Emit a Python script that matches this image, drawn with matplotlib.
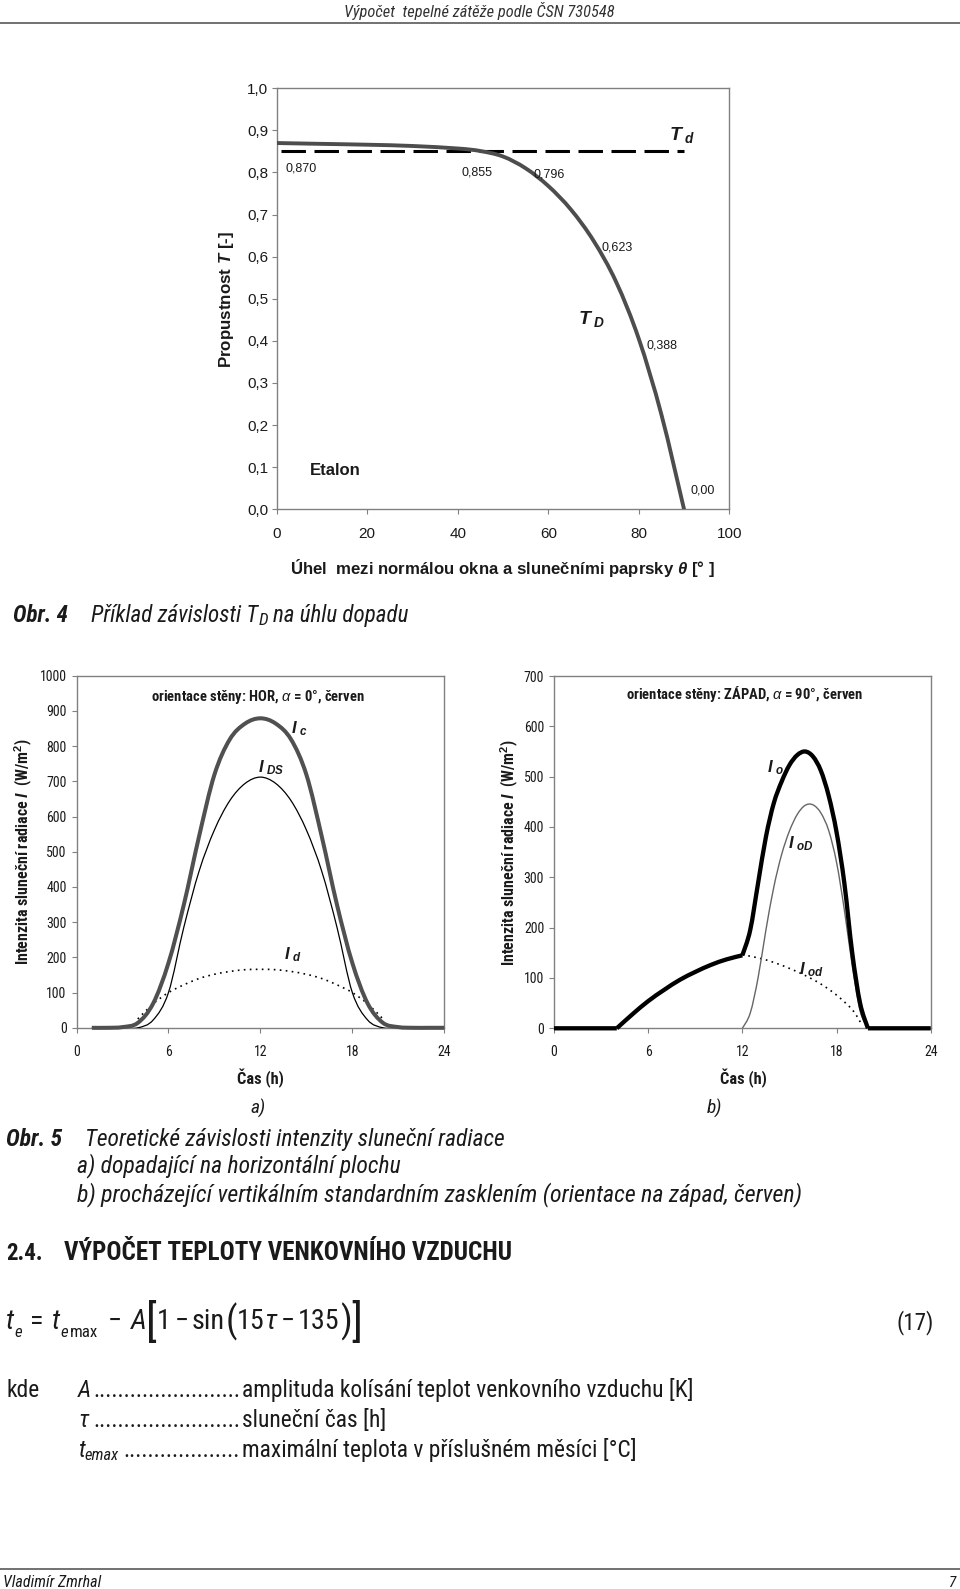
import numpy as np
import matplotlib
matplotlib.use('Agg')
import matplotlib.pyplot as plt
from matplotlib import font_manager
from matplotlib.path import Path
from matplotlib.patches import PathPatch
from matplotlib.lines import Line2D

# --- data ---
# Obr. 4: transmittance of glazing vs. angle of incidence
THETA = [0, 10, 20, 30, 40, 45, 50, 55, 60, 65, 70, 75, 80, 85, 90]
T_D = [0.870, 0.868, 0.866, 0.863, 0.857, 0.851, 0.838, 0.810, 0.768, 0.712, 0.638, 0.540, 0.405, 0.225, 0.0]
TD_LEVEL = 0.85
TD_SPAN = [1, 90]
THETA_TICKS = [0, 20, 40, 60, 80, 100]
T_TICKS = [0.0, 0.1, 0.2, 0.3, 0.4, 0.5, 0.6, 0.7, 0.8, 0.9, 1.0]
T_TICK_LABELS = ['0,0', '0,1', '0,2', '0,3', '0,4', '0,5', '0,6', '0,7', '0,8', '0,9', '1,0']
VALUE_LABELS = ['0,870', '0,855', '0,796', '0,623', '0,388', '0,00']

# Obr. 5a: horizontal surface, June
HOURS_A = list(range(1, 25))
I_C = [0, 0, 2, 14, 69, 184, 349, 544, 719, 819, 864, 879, 864, 819, 719, 544, 349, 184, 69, 14, 2, 0, 0, 0]
I_DS = [0, 0, 0, 0, 22, 100, 285, 445, 562, 645, 694, 712, 694, 645, 562, 445, 285, 100, 22, 0, 0, 0, 0, 0]
HOURS_D = list(range(4, 21))
I_D_A = [25, 68, 100, 122, 140, 152, 160, 165, 166, 165, 160, 152, 140, 122, 100, 68, 25]

# Obr. 5b: west glazing, June
HOURS_O = [0, 4, 5, 6, 7, 8, 9, 10, 11, 12, 12.5, 13, 13.5, 14, 14.5, 15, 15.5, 16,
           16.5, 17, 17.5, 18, 18.5, 19, 19.5, 20, 24]
I_O = [0, 0, 28, 54, 76, 96, 112, 126, 137, 145, 195, 288, 380, 447, 490, 523, 543, 550,
       540, 512, 462, 390, 288, 150, 50, 0, 0]
HOURS_OD = [12, 12.5, 13, 13.5, 14, 14.5, 15, 15.5, 16, 16.5, 17, 17.5, 18, 18.5, 19, 19.5, 20]
I_OD_DIRECT = [0, 30, 100, 195, 280, 345, 392, 425, 443, 444, 428, 393, 330, 235, 125, 35, 0]
HOURS_ODIF = [12, 13, 14, 15, 16, 17, 18, 19, 19.6]
I_OD_DIFF = [146, 140, 131, 119, 105, 88, 66, 37, 8]

HOUR_TICKS = [0, 6, 12, 18, 24]
A_TICKS = list(range(0, 1001, 100))
B_TICKS = list(range(0, 701, 100))

# --- fonts ---
W, H = 960, 1589
ARIAL = 'Liberation Sans'
found = {}
for f in font_manager.fontManager.ttflist:
    narrowish = 'condensed' in str(f.stretch) or f.name in ('Liberation Sans Narrow', 'Arial Narrow')
    if narrowish and f.style == 'normal':
        found.setdefault(f.name, f.stretch)
NARROW, NST = ARIAL, 'normal'
for n in ['Liberation Sans Narrow', 'Arial Narrow', 'Roboto Condensed', 'Open Sans Condensed',
          'DejaVu Sans', 'Noto Sans', 'Open Sans', 'Roboto']:
    if n in found:
        NARROW, NST = n, found[n]
        break

plt.rcParams['font.family'] = [ARIAL, 'DejaVu Sans']
plt.rcParams['mathtext.fontset'] = 'custom'
plt.rcParams['mathtext.rm'] = ARIAL
plt.rcParams['mathtext.it'] = ARIAL + ':italic'
plt.rcParams['mathtext.bf'] = ARIAL + ':bold'
plt.rcParams['mathtext.bfit'] = ARIAL + ':bold:italic'
plt.rcParams['mathtext.sf'] = ARIAL

INK = '#1a1a1a'
FRAME = '#808080'
BT = 10 if NARROW != ARIAL else 9.5

fig = plt.figure(figsize=(W / 100, H / 100), dpi=100)
R = fig.canvas.get_renderer()


def fpos(x, y):
    return x / W, 1 - y / H


def put(x, y, s, size, family=None, fit=None, rotation=0, **kw):
    kw.setdefault('color', INK)
    fam = family or NARROW
    t = fig.text(*fpos(x, y), s, fontsize=size, family=[fam, 'DejaVu Sans'],
                 fontstretch=NST if fam == NARROW else 'normal', rotation=rotation, **kw)
    if fit:
        bb = t.get_window_extent(R)
        cur = bb.height if rotation else bb.width
        t.set_fontsize(size * fit / cur)
    return t


def run(x, y, parts, size, target=None):
    # consecutive text pieces on one baseline
    def build(sz):
        xs = x
        objs = []
        for s, o in parts:
            t = fig.text(*fpos(xs, y + o.get('dy', 0) * sz / 12), s,
                         fontsize=sz * o.get('scale', 1),
                         family=[NARROW, 'DejaVu Sans'], fontstretch=NST,
                         style=o.get('style', 'normal'), weight=o.get('weight', 'normal'),
                         va='baseline', ha='left', color=INK)
            xs += t.get_window_extent(R).width + o.get('gap', 0) * sz / 12
            objs.append(t)
        return objs, xs - x
    objs, w = build(size)
    if target:
        for t in objs:
            t.remove()
        objs, w = build(size * target / w)
    return objs


def leaders(x0, x1, y, size):
    d = fig.text(0, 0, '.', fontsize=size, family=[NARROW], fontstretch=NST)
    dw = d.get_window_extent(R).width
    d.remove()
    n = int((x1 - x0) / dw)
    put(x1, y, '.' * n, size, ha='right', va='baseline')


def px_axes(l, t, r, b):
    return fig.add_axes([l / W, 1 - b / H, (r - l) / W, (b - t) / H])


def style(ax, xpad, ypad):
    for s in ax.spines.values():
        s.set_color(FRAME)
        s.set_linewidth(1.0)
    ax.tick_params(direction='out', length=3.6, width=0.8, color=FRAME, labelcolor=INK)
    ax.tick_params(axis='x', pad=xpad)
    ax.tick_params(axis='y', pad=ypad)


def ticks(ax, xt, yt, ylabels, size, family):
    ax.set_xticks(xt)
    ax.set_xticklabels([str(v) for v in xt], fontsize=size, family=family)
    ax.set_yticks(yt)
    ax.set_yticklabels(ylabels, fontsize=size, family=family)
    if family == NARROW:
        for lab in ax.get_xticklabels() + ax.get_yticklabels():
            lab.set_fontstretch(NST)


def smooth(ax, x, y, breaks=(), **kw):
    # smoothed line (Catmull-Rom through the points, drawn as bezier path)
    x = np.asarray(x, float)
    y = np.asarray(y, float)
    cuts = [0] + [int(np.where(x == b)[0][0]) for b in breaks] + [len(x) - 1]
    for a, b in zip(cuts[:-1], cuts[1:]):
        P = np.column_stack([x[a:b + 1], y[a:b + 1]])
        n = len(P)
        verts = [P[0]]
        codes = [Path.MOVETO]
        for i in range(n - 1):
            p0, p1, p2, p3 = P[max(i - 1, 0)], P[i], P[i + 1], P[min(i + 2, n - 1)]
            verts += [p1 + (p2 - p0) / 6, p2 - (p3 - p1) / 6, p2]
            codes += [Path.CURVE4] * 3
        ax.add_patch(PathPatch(Path(verts, codes), fill=False, zorder=3, **kw))


# --- page header ---
put(479.5, 17, 'Výpočet  tepelné zátěže podle ČSN 730548', 12, style='italic',
    ha='center', va='baseline', fit=269, color='#333333')
fig.add_artist(Line2D([0, 1], [1 - 23 / H] * 2, color='#666666', lw=1.3))

# --- Obr. 4 ---
ax1 = px_axes(276.7, 88.3, 729.3, 509.3)
ax1.set_xlim(0, 100)
ax1.set_ylim(0, 1)
style(ax1, 9.5, 2.5)
ticks(ax1, THETA_TICKS, T_TICKS, T_TICK_LABELS, 11, ARIAL)
ax1.plot(TD_SPAN, [TD_LEVEL] * 2, color='black', lw=2.2, linestyle=(0, (8, 2.8)),
         dash_capstyle='butt', zorder=2)
smooth(ax1, THETA, T_D, color='#4d4d4d', lw=2.8, capstyle='round')
for s, (x, y) in zip(VALUE_LABELS, [(5.5, 0.810), (44.2, 0.801), (60.3, 0.795),
                                    (75.3, 0.622), (85.2, 0.388), (94.2, 0.044)]):
    ax1.text(x, y, s, fontsize=9, family=ARIAL, ha='center', va='center', color=INK)
ax1.text(69.6, 0.453, r'$\mathbfit{T}_{\ \mathbfit{D}}$', fontsize=14, ha='center', va='center', color=INK)
ax1.text(89.7, 0.889, r'$\mathbfit{T}_{\ \mathbfit{d}}$', fontsize=14, ha='center', va='center', color=INK)
ax1.text(12.9, 0.093, 'Etalon', fontsize=12, weight='bold', family=ARIAL, ha='center',
         va='center', color=INK)

put(502, 568, r'Úhel  mezi normálou okna a slunečními paprsky $\mathbfit{\theta}$ [° ]', 11.5,
    family=ARIAL, weight='bold', ha='center', va='center', fit=426)
put(227, 300, r'Propustnost $\mathbfit{T}$ [-]', 11.5, family=ARIAL, weight='bold',
    ha='center', va='center', rotation=90, fit=137)

run(13, 622, [('Obr. 4', dict(style='italic', weight='bold', gap=17)),
              ('Příklad závislosti T', dict(style='italic')),
              ('D', dict(style='italic', scale=0.75, dy=2, gap=4)),
              ('na úhlu dopadu', dict(style='italic'))], 13, target=395)

# --- Obr. 5a ---
axa = px_axes(76.5, 675.7, 444.3, 1027.8)
axa.set_xlim(0, 24)
axa.set_ylim(0, 1000)
style(axa, 8.5, 3.5)
ticks(axa, HOUR_TICKS, A_TICKS, [str(v) for v in A_TICKS], BT, NARROW)
smooth(axa, HOURS_D, I_D_A, color='black', lw=1.2, linestyle=(0, (1, 2.6)))
smooth(axa, HOURS_A, I_DS, color='black', lw=0.9)
smooth(axa, HOURS_A, I_C, color='#505050', lw=2.9, clip_on=False)
axa.text(14.5, 850, r'$\mathbfit{I}_{\ \mathbfit{c}}$', fontsize=12, ha='center', va='center', color=INK)
axa.text(12.7, 740, r'$\mathbfit{I}_{\ \mathbfit{DS}}$', fontsize=12, ha='center', va='center', color=INK)
axa.text(14.1, 207, r'$\mathbfit{I}_{\ \mathbfit{d}}$', fontsize=12, ha='center', va='center', color=INK)
put(258.3, 697.3, r'orientace stěny: HOR, $\alpha$ = 0°, červen', 10, weight='bold',
    ha='center', va='center', fit=213)

# --- Obr. 5b ---
axb = px_axes(554, 676, 930.7, 1028.3)
axb.set_xlim(0, 24)
axb.set_ylim(0, 700)
style(axb, 8.5, 3.5)
ticks(axb, HOUR_TICKS, B_TICKS, [str(v) for v in B_TICKS], BT, NARROW)
smooth(axb, HOURS_ODIF, I_OD_DIFF, color='black', lw=1.2, linestyle=(0, (1, 2.6)))
smooth(axb, HOURS_OD, I_OD_DIRECT, color='#666666', lw=1.0)
smooth(axb, HOURS_O, I_O, breaks=(4, 12, 20), color='black', lw=3.1, clip_on=False)
axb.text(14.1, 517, r'$\mathbfit{I}_{\ \mathbfit{o}}$', fontsize=12, ha='center', va='center', color=INK)
axb.text(15.7, 367, r'$\mathbfit{I}_{\ \mathbfit{oD}}$', fontsize=12, ha='center', va='center', color=INK)
axb.text(16.4, 116, r'$\mathbfit{I}_{\ \mathbfit{od}}$', fontsize=12, ha='center', va='center', color=INK)
put(745, 694.3, r'orientace stěny: ZÁPAD, $\alpha$ = 90°, červen', 10, weight='bold',
    ha='center', va='center', fit=236)

ylab = r'Intenzita sluneční radiace $\mathbfit{I}$  (W/m$^{\mathbf{2}}$)'
put(24, 851.5, ylab, 10, weight='bold', ha='center', va='center', rotation=90, fit=227)
put(510, 853, ylab, 10, weight='bold', ha='center', va='center', rotation=90, fit=227)
put(260, 1084, 'Čas (h)', 10.5, weight='bold', ha='center', va='baseline', fit=47)
put(743, 1084, 'Čas (h)', 10.5, weight='bold', ha='center', va='baseline', fit=47)
put(258, 1114, 'a)', 14, style='italic', ha='center', va='baseline')
put(714, 1114, 'b)', 14, style='italic', ha='center', va='baseline')

run(6, 1146, [('Obr. 5', dict(style='italic', weight='bold', gap=16)),
              ('Teoretické závislosti intenzity sluneční radiace', dict(style='italic'))],
    13, target=496)
put(77, 1172, 'a) dopadající na horizontální plochu', 13, style='italic', va='baseline', fit=324)
put(77, 1201, 'b) procházející vertikálním standardním zasklením (orientace na západ, červen)',
    13, style='italic', va='baseline', fit=725)

# --- section 2.4 ---
put(6, 1260, '2.4.', 15, weight='bold', va='baseline', fit=37)
put(64, 1260, 'VÝPOČET TEPLOTY VENKOVNÍHO VZDUCHU', 15, weight='bold', va='baseline', fit=450)
run(6, 1329, [('t', dict(style='italic')), ('e', dict(style='italic', scale=0.6, dy=5, gap=5)),
              ('=', dict(gap=5)),
              ('t', dict(style='italic')), ('e', dict(style='italic', scale=0.6, dy=5, gap=1)),
              ('max', dict(scale=0.6, dy=5, gap=6)),
              ('−', dict(gap=5)), ('A', dict(style='italic')),
              ('[', dict(scale=1.55, dy=4)), ('1', dict(gap=2)), ('−', dict(gap=2)),
              ('sin', dict()), ('(', dict(scale=1.3, dy=2)), ('15', dict()),
              ('τ', dict(style='italic', gap=2)), ('−', dict(gap=2)), ('135', dict()),
              (')', dict(scale=1.3, dy=2)), (']', dict(scale=1.55, dy=4))], 20, target=355)
put(934, 1329, '(17)', 15, va='baseline', ha='right', fit=37)

kde = put(242, 1397, 'amplituda kolísání teplot venkovního vzduchu [K]', 14, va='baseline', fit=453)
ks = kde.get_fontsize()
put(6, 1397, 'kde', ks, va='baseline')
put(78, 1397, 'A', ks, style='italic', va='baseline')
leaders(92, 240, 1397, ks)
put(78, 1427, 'τ', ks, style='italic', va='baseline')
leaders(92, 240, 1427, ks)
put(242, 1427, 'sluneční čas [h]', ks, va='baseline')
run(78, 1457, [('t', dict(style='italic')), ('emax', dict(style='italic', scale=0.7, dy=2))], ks)
leaders(120, 240, 1457, ks)
put(242, 1457, 'maximální teplota v příslušném měsíci [°C]', ks, va='baseline')

# --- footer ---
fig.add_artist(Line2D([0, 1], [1 - 1569 / H] * 2, color='#666666', lw=1.3))
put(3, 1587, 'Vladimír Zmrhal', 11, style='italic', va='baseline', fit=98)
put(955, 1587, '7', 11, style='italic', va='baseline', ha='right')

fig.savefig('out.png', dpi=100)
